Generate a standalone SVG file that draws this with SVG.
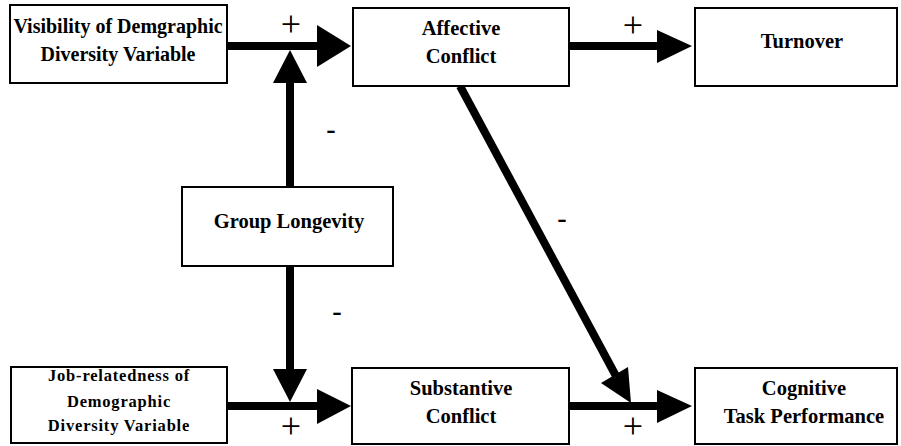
<svg xmlns="http://www.w3.org/2000/svg" width="901" height="446" viewBox="0 0 901 446">
  <style>
    .box { fill: #fff; stroke: #000; stroke-width: 2; }
    .lbl { font-family: 'Liberation Serif', 'Times New Roman', serif; font-weight: 700; font-size: 20.5px; text-anchor: middle; fill: #000; }
    .small { font-size: 16.5px; letter-spacing: 0.8px; }
    .edge { stroke: #000; stroke-width: 8; fill: none; }
    .head { fill: #000; }
    .plus { font-family: 'Liberation Serif', 'Times New Roman', serif; font-size: 36px; text-anchor: middle; fill: #000; }
    .minus { font-family: 'Liberation Sans', Arial, sans-serif; font-size: 30px; text-anchor: middle; fill: #000; }
  </style>
  <rect width="901" height="446" fill="#fff"/>

  <g id="connectors">
    <!-- Visibility -> Affective -->
    <line class="edge" x1="227" y1="46" x2="320" y2="46"/>
    <polygon class="head" points="317,25 351,46 317,67"/>
    <!-- Group Longevity moderates the upper path -->
    <line class="edge" x1="290" y1="187" x2="290" y2="80"/>
    <polygon class="head" points="273,83 290,50 307,83"/>
    <!-- Affective -> Turnover -->
    <line class="edge" x1="569" y1="46" x2="660" y2="46"/>
    <polygon class="head" points="657,30 692,46 657,63"/>
    <!-- Affective -> Cognitive (diagonal) -->
    <line class="edge" x1="460" y1="86" x2="616" y2="376"/>
    <polygon class="head" points="601,383 631,403 628,367"/>
    <!-- Group Longevity moderates the lower path -->
    <line class="edge" x1="290" y1="266" x2="290" y2="372"/>
    <polygon class="head" points="273,369 290,402 307,369"/>
    <!-- Job-relatedness -> Substantive -->
    <line class="edge" x1="227" y1="406" x2="320" y2="406"/>
    <polygon class="head" points="317,389 351,406 317,424"/>
    <!-- Substantive -> Cognitive -->
    <line class="edge" x1="569" y1="406" x2="660" y2="406"/>
    <polygon class="head" points="657,390 692,406 657,423"/>

    <text class="plus" x="291" y="36">+</text>
    <text class="plus" x="633" y="37">+</text>
    <text class="plus" x="291" y="438">+</text>
    <text class="plus" x="633" y="438">+</text>
    <text class="minus" x="331" y="140">-</text>
    <text class="minus" x="337" y="322">-</text>
    <text class="minus" x="562" y="229">-</text>
  </g>

  <g id="visibility">
    <rect class="box" x="10" y="5" width="217" height="78"/>
    <text class="lbl" x="118" y="33" style="font-size:20px">Visibility of Demgraphic</text>
    <text class="lbl" x="118" y="61" style="font-size:20px">Diversity Variable</text>
  </g>

  <g id="affective">
    <rect class="box" x="353" y="8" width="216" height="78"/>
    <text class="lbl" x="461" y="35">Affective</text>
    <text class="lbl" x="461" y="63">Conflict</text>
  </g>

  <g id="turnover">
    <rect class="box" x="695" y="8" width="202" height="78"/>
    <text class="lbl" x="802" y="48">Turnover</text>
  </g>

  <g id="longevity">
    <rect class="box" x="182" y="187" width="211" height="79"/>
    <text class="lbl" x="289" y="228">Group Longevity</text>
  </g>

  <g id="job-relatedness">
    <rect class="box" x="11" y="367" width="216" height="76"/>
    <text class="lbl small" x="119" y="381">Job-relatedness of</text>
    <text class="lbl small" x="119" y="407">Demographic</text>
    <text class="lbl small" x="119" y="431">Diversity Variable</text>
  </g>

  <g id="substantive">
    <rect class="box" x="352" y="368" width="217" height="76"/>
    <text class="lbl" x="461" y="395">Substantive</text>
    <text class="lbl" x="461" y="423">Conflict</text>
  </g>

  <g id="cognitive">
    <rect class="box" x="695" y="368" width="202" height="76"/>
    <text class="lbl" x="804" y="395">Cognitive</text>
    <text class="lbl" x="804" y="423">Task Performance</text>
  </g>
</svg>
